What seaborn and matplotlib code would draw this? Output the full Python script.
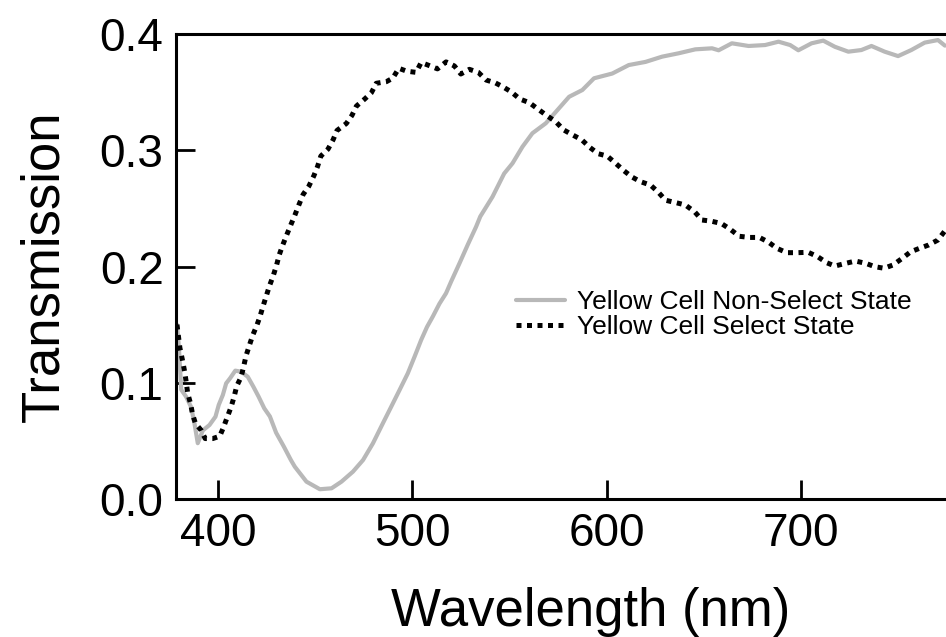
import matplotlib
matplotlib.use("Agg")
import matplotlib.pyplot as plt
import seaborn as sns
import pandas as pd

# ---- data ----
nonsel_wl = [379.0, 380.0, 381.2, 383.7, 386.3, 388.0, 389.7, 392.3, 395.7, 398.8,
             400.5, 402.6, 404.3, 406.3, 409.0, 412.0, 415.4, 418.3, 421.0, 423.9,
             426.8, 430.0, 434.0, 437.6, 439.6, 445.6, 452.5, 458.5, 463.6, 469.5,
             474.7, 479.8, 484.9, 489.2, 493.5, 497.7, 501.2, 504.6, 507.6, 510.6,
             514.0, 517.4, 520.0, 524.3, 528.5, 532.8, 535.0, 541.3, 547.3, 551.6,
             556.7, 561.8, 568.7, 574.7, 580.7, 587.5, 593.5, 602.9, 611.4, 620.0,
             628.5, 637.0, 645.6, 654.2, 657.6, 664.4, 673.0, 681.5, 688.4, 694.4,
             698.6, 705.4, 711.4, 717.4, 724.3, 731.0, 736.2, 743.0, 749.9, 756.7,
             763.6, 770.4, 774.0]
nonsel_t = [0.150, 0.130, 0.094, 0.088, 0.079, 0.065, 0.048, 0.059, 0.0636, 0.0708,
            0.081, 0.0895, 0.0995, 0.1038, 0.1104, 0.1095, 0.1052, 0.0966, 0.088, 0.078,
            0.071, 0.057, 0.045, 0.0335, 0.0278, 0.0149, 0.0084, 0.0092, 0.0149, 0.0235,
            0.0335, 0.0479, 0.0651, 0.0794, 0.0938, 0.108, 0.1224, 0.1368, 0.148, 0.157,
            0.168, 0.177, 0.187, 0.2027, 0.2185, 0.234, 0.243, 0.260, 0.280, 0.2888,
            0.303, 0.3146, 0.3232, 0.3346, 0.346, 0.3518, 0.3619, 0.366, 0.3733, 0.376,
            0.3805, 0.3834, 0.3868, 0.3877, 0.386, 0.392, 0.3897, 0.3905, 0.3934, 0.3905,
            0.386, 0.392, 0.3943, 0.389, 0.3848, 0.3862, 0.3897, 0.3848, 0.381, 0.3862,
            0.3926, 0.3948, 0.390]

sel_wl = [379.0, 380.5, 382.0, 383.0, 383.8, 384.5, 386.0, 387.0, 388.5, 391.5,
          393.5, 397.4, 401.0, 403.0, 405.0, 406.8, 408.4, 409.7, 412.0, 413.3,
          414.5, 416.2, 418.0, 420.0, 421.7, 423.3, 425.0, 426.5, 428.5, 430.2,
          431.6, 433.3, 435.4, 437.6, 439.6, 441.7, 443.9, 446.8, 449.4, 451.3,
          453.0, 456.7, 459.3, 461.3, 466.1, 469.0, 471.3, 475.5, 479.0, 481.5,
          486.7, 490.0, 493.1, 497.2, 502.0, 504.6, 508.5, 513.0, 517.4, 521.7,
          525.0, 529.4, 534.0, 538.0, 542.7, 546.5, 550.8, 555.4, 560.2, 565.0,
          569.5, 573.8, 578.0, 582.7, 587.2, 591.3, 595.7, 600.3, 604.6, 608.9,
          613.0, 617.4, 622.6, 626.8, 630.3, 635.7, 640.5, 645.3, 649.0, 653.8,
          659.0, 663.6, 668.2, 673.5, 678.6, 683.2, 687.5, 692.6, 698.3, 703.7,
          708.5, 713.1, 717.4, 722.9, 728.0, 733.3, 738.0, 742.7, 747.3, 752.0,
          756.4, 761.0, 765.6, 770.4, 773.0, 776.0]
sel_t = [0.150, 0.130, 0.118, 0.109, 0.100, 0.091, 0.082, 0.073, 0.065, 0.059,
         0.052, 0.052, 0.054, 0.062, 0.071, 0.079, 0.088, 0.097, 0.105, 0.114,
         0.123, 0.132, 0.141, 0.149, 0.157, 0.166, 0.175, 0.183, 0.192, 0.201,
         0.210, 0.218, 0.227, 0.236, 0.244, 0.253, 0.262, 0.269, 0.278, 0.286,
         0.295, 0.301, 0.309, 0.317, 0.323, 0.330, 0.338, 0.344, 0.3495, 0.3576,
         0.359, 0.362, 0.3705, 0.368, 0.367, 0.3755, 0.373, 0.370, 0.376, 0.3725,
         0.3656, 0.3696, 0.367, 0.3604, 0.358, 0.3547, 0.3504, 0.344, 0.341, 0.335,
         0.3295, 0.3246, 0.3174, 0.313, 0.309, 0.3025, 0.297, 0.295, 0.2888, 0.2824,
         0.277, 0.273, 0.270, 0.2635, 0.257, 0.2549, 0.2529, 0.247, 0.240, 0.239,
         0.237, 0.232, 0.226, 0.225, 0.225, 0.221, 0.2157, 0.2119, 0.2119, 0.2122,
         0.2085, 0.2033, 0.2004, 0.2027, 0.2047, 0.2027, 0.1998, 0.1985, 0.2013, 0.207,
         0.2127, 0.2157, 0.2185, 0.2228, 0.2285, 0.235]

x_ticks = [400, 500, 600, 700]
y_ticks = [0.0, 0.1, 0.2, 0.3, 0.4]
y_ticklabels = ["0.0", "0.1", "0.2", "0.3", "0.4"]
label_nonsel = "Yellow Cell Non-Select State"
label_sel = "Yellow Cell Select State"

sns.set_theme(style="white")
plt.rcParams["font.family"] = ["Liberation Sans", "DejaVu Sans"]

W, H = 946, 637
fig = plt.figure(figsize=(W / 100, H / 100), dpi=100)
left, right, top, bottom = 176, 956.6, 34, 499
ax = fig.add_axes([left / W, 1 - bottom / H, (right - left) / W, (bottom - top) / H])

df_ns = pd.DataFrame({"wl": nonsel_wl, "t": nonsel_t})
df_s = pd.DataFrame({"wl": sel_wl, "t": sel_t})

sns.lineplot(data=df_ns, x="wl", y="t", ax=ax, color="#b8b8b8", linewidth=3.0,
             estimator=None, sort=False, label=label_nonsel)
sns.lineplot(data=df_s, x="wl", y="t", ax=ax, color="black", linewidth=3.6,
             linestyle=(0, (1.0, 1.1)), estimator=None, sort=False, label=label_sel)

ax.set_xlim(378.5, 780)
ax.set_ylim(0.0, 0.4)
ax.set_xticks(x_ticks)
ax.set_xticklabels([str(v) for v in x_ticks])
ax.set_yticks(y_ticks)
ax.set_yticklabels(y_ticklabels)

for s in ["left", "bottom", "top"]:
    ax.spines[s].set_visible(True)
    ax.spines[s].set_color("black")
    ax.spines[s].set_linewidth(2.2)
ax.spines["right"].set_visible(False)

ax.tick_params(axis="both", which="major", direction="in", length=14, width=2.0,
               color="black", labelsize=33, labelcolor="black")
ax.tick_params(axis="x", pad=9, top=False, bottom=True)
ax.tick_params(axis="y", pad=9, right=False, left=True)

ax.set_xlabel("Wavelength (nm)", fontsize=38, color="black", labelpad=23)
ax.xaxis.label.set_x((591 - left) / (right - left))
ax.set_ylabel("Transmission", fontsize=38, color="black", labelpad=22)

leg = ax.legend(loc="upper left", bbox_to_anchor=(516 / W, 1 - 290 / H),
                bbox_transform=fig.transFigure, frameon=False, fontsize=19,
                borderpad=0, borderaxespad=0, handlelength=1.85,
                handletextpad=0.45, labelspacing=0.05, labelcolor="black")

fig.savefig("out.png", dpi=100, facecolor="white")
